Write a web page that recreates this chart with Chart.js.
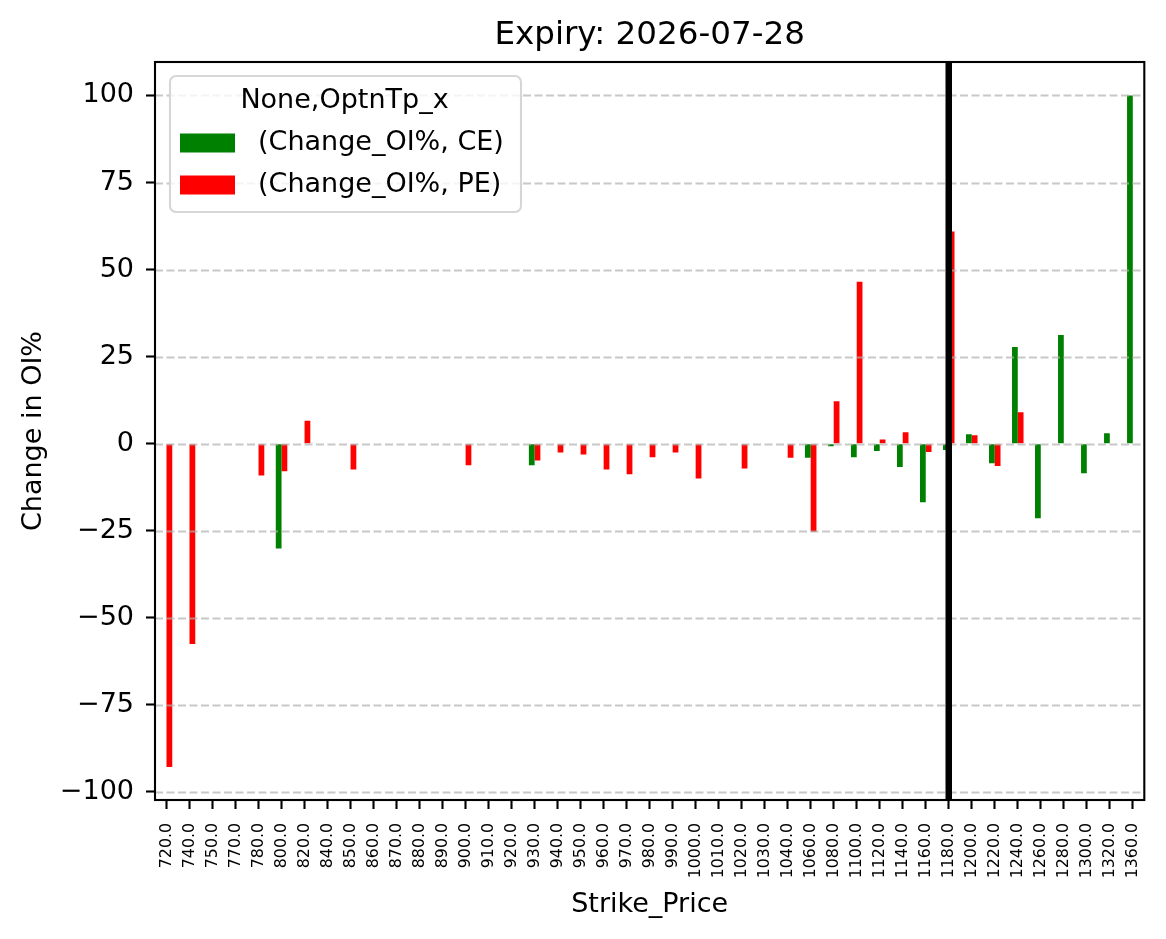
<!DOCTYPE html>
<html>
<head>
<meta charset="utf-8">
<script src="https://cdn.jsdelivr.net/npm/chart.js@4.4.1/dist/chart.umd.min.js"></script>
<style>
  html, body { margin: 0; padding: 0; background: #fff; }
  canvas { display: block; }
</style>
</head>
<body>
<canvas id="myChart" width="1166" height="939"></canvas>
<script>
// strike prices on the x axis
const strikes = ['720.0', '740.0', '750.0', '770.0', '780.0', '800.0', '820.0', '840.0', '850.0', '860.0',
  '870.0', '880.0', '890.0', '900.0', '910.0', '920.0', '930.0', '940.0', '950.0', '960.0',
  '970.0', '980.0', '990.0', '1000.0', '1010.0', '1020.0', '1030.0', '1040.0', '1060.0', '1080.0',
  '1100.0', '1120.0', '1140.0', '1160.0', '1180.0', '1200.0', '1220.0', '1240.0', '1260.0', '1280.0',
  '1300.0', '1320.0', '1360.0'];

// change in OI% for calls
const ceChange = [null, null, null, null, null, -30.1, null, null, null, null,
  null, null, null, null, null, null, -6.2, null, null, null,
  null, null, null, null, null, null, null, null, -4.0, -0.7,
  -3.9, -2.1, -6.7, -16.8, -1.8, 2.7, -5.6, 27.8, -21.4, 31.2,
  -8.5, 3.0, 100];

// change in OI% for puts
const peChange = [-92.8, -57.5, null, null, -9.1, -7.9, 6.6, null, -7.4, null,
  null, null, null, -6.2, null, null, -4.8, -2.5, -3.1, -7.4,
  -8.8, -3.9, -2.5, -10.0, null, -7.1, null, -4.0, -25.3, 12.2,
  46.5, 1.2, 3.3, -2.4, 60.9, 2.4, -6.4, 9.0, null, null,
  null, null, null];

const yTicks = [-100, -75, -50, -25, 0, 25, 50, 75, 100];
const spotStrike = '1180.0';

const FONT = 'DejaVu Sans';
const BASE = 27;

// title, dashed grid over the bars, spot line, frame and legend
const extras = {
  id: 'extras',
  afterDatasetsDraw(chart) {
    const c = chart.ctx;
    const area = chart.chartArea;
    const x = chart.scales.x;
    const y = chart.scales.y;

    // y grid (matplotlib draws it above the bars)
    c.save();
    c.strokeStyle = 'rgba(176,176,176,0.7)';
    c.lineWidth = 2.1;
    c.setLineDash([8, 3.5]);
    y.ticks.forEach(t => {
      const py = Math.round(y.getPixelForValue(t.value)) + 0.5;
      c.beginPath();
      c.moveTo(area.left, py);
      c.lineTo(area.right, py);
      c.stroke();
    });
    c.restore();

    // spot strike line
    const sx = x.getPixelForValue(strikes.indexOf(spotStrike));
    c.save();
    c.strokeStyle = '#000';
    c.lineWidth = 6.5;
    c.beginPath();
    c.moveTo(sx, area.top);
    c.lineTo(sx, area.bottom);
    c.stroke();
    c.restore();

    // axes frame
    c.save();
    c.strokeStyle = '#000';
    c.lineWidth = 2.1;
    c.strokeRect(area.left, area.top, area.right - area.left, area.bottom - area.top);
    c.restore();

    // title
    c.save();
    c.fillStyle = '#000';
    c.font = '32.6px "' + FONT + '"';
    c.textAlign = 'center';
    c.textBaseline = 'alphabetic';
    c.fillText('Expiry: 2026-07-28', (area.left + area.right) / 2, 44);
    c.restore();

    // legend
    c.save();
    const lx = 170, ly = 76, lw = 351, lh = 136, r = 6;
    c.fillStyle = 'rgba(255,255,255,0.8)';
    c.strokeStyle = '#d6d6d6';
    c.lineWidth = 2.1;
    c.beginPath();
    c.roundRect(lx, ly, lw, lh, r);
    c.fill();
    c.stroke();
    c.fillStyle = '#000';
    c.font = BASE + 'px "' + FONT + '"';
    c.textBaseline = 'middle';
    c.textAlign = 'center';
    c.fillText('None,OptnTp_x', lx + lw / 2 - 1, 101);
    c.textAlign = 'left';
    chart.data.datasets.forEach((ds, i) => {
      const my = 143 + i * 42;
      c.fillStyle = ds.backgroundColor;
      c.fillRect(180, my - 9.5, 55, 19);
      c.fillStyle = '#000';
      c.fillText(ds.label, 258, my);
    });
    c.restore();
  }
};

new Chart(document.getElementById('myChart'), {
  type: 'bar',
  data: {
    labels: strikes,
    datasets: [
      { label: '(Change_OI%, CE)', data: ceChange, backgroundColor: '#008000' },
      { label: '(Change_OI%, PE)', data: peChange, backgroundColor: '#ff0000' }
    ]
  },
  options: {
    responsive: false,
    animation: false,
    devicePixelRatio: 1,
    categoryPercentage: 0.5,
    barPercentage: 1.0,
    layout: { padding: { left: 0, right: 20, top: 62, bottom: 0 } },
    plugins: {
      legend: { display: false },
      title: { display: false },
      tooltip: { enabled: false }
    },
    scales: {
      x: {
        offset: true,
        afterFit: s => { s.height = 139; },
        grid: { drawOnChartArea: false, offset: false, drawTicks: true, tickLength: 9, tickWidth: 2.1, tickColor: '#000' },
        border: { display: false },
        ticks: {
          autoSkip: false, minRotation: 90, maxRotation: 90, padding: 14,
          color: '#000', font: { family: FONT, size: 15.8 }
        },
        title: {
          display: true, text: 'Strike_Price', color: '#000',
          font: { family: FONT, size: BASE }, padding: { top: 0, bottom: 18 }
        }
      },
      y: {
        min: -102.3,
        max: 109.6,
        afterFit: s => { s.width = 155; },
        afterBuildTicks: s => { s.ticks = yTicks.map(v => ({ value: v })); },
        grid: { drawOnChartArea: false, drawTicks: true, tickLength: 9, tickWidth: 2.1, tickColor: '#000' },
        border: { display: false },
        ticks: {
          padding: 12, color: '#000', font: { family: FONT, size: BASE },
          callback: v => v < 0 ? '\u2212' + Math.abs(v) : String(v)
        },
        title: {
          display: true, text: 'Change in OI%', color: '#000',
          font: { family: FONT, size: BASE }, padding: { top: 18, bottom: 0 }
        }
      }
    }
  },
  plugins: [extras]
});
</script>
</body>
</html>
